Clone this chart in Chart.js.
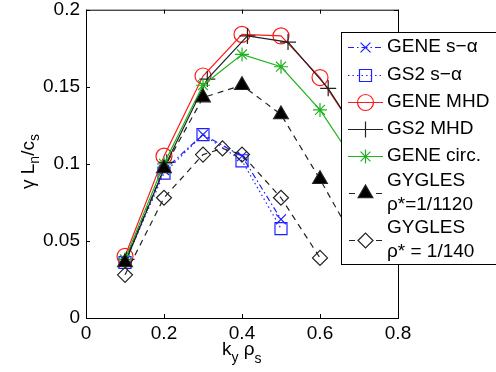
<!DOCTYPE html>
<html>
<head>
<meta charset="utf-8">
<script src="https://cdn.jsdelivr.net/npm/chart.js@4/dist/chart.umd.min.js"></script>
<style>
  html, body { margin: 0; padding: 0; background: #fff; }
  canvas { display: block; }
</style>
</head>
<body>
<canvas id="growth" width="496" height="372"></canvas>
<script>
// ---- data (k_y rho_s vs gamma L_n / c_s) ----
const kGene      = [0.1, 0.2, 0.3, 0.4, 0.5, 0.6, 0.7];
const kSalpha    = [0.1, 0.2, 0.3, 0.4, 0.5];
const kGs2       = [0.104, 0.207, 0.311, 0.414, 0.518, 0.621, 0.725];
const kGygles140 = [0.1, 0.2, 0.3, 0.35, 0.4, 0.5, 0.6];

const geneSalpha = [0.037, 0.096, 0.119, 0.105, 0.064];
const gs2Salpha  = [0.036, 0.094, 0.119, 0.102, 0.058];
const geneMhd    = [0.040, 0.105, 0.157, 0.184, 0.183, 0.156, 0.118];
const gs2Mhd     = [0.038, 0.101, 0.155, 0.183, 0.179, 0.149, 0.108];
const geneCirc   = [0.038, 0.100, 0.151, 0.171, 0.163, 0.135, 0.097];
const gygles1120 = [0.036, 0.097, 0.143, 0.151, 0.132, 0.090, 0.045];
const gygles140  = [0.028, 0.078, 0.106, 0.110, 0.106, 0.078, 0.039];

const xTicks = [0, 0.2, 0.4, 0.6, 0.8];
const yTicks = [0, 0.05, 0.1, 0.15, 0.2];

const BLUE = "#1f1fff", RED = "#ff1a1a", BLACK = "#222", GREEN = "#1fb31f";
const FONT = "'Liberation Sans', Arial, sans-serif";

const pts = (xs, ys) => xs.map((x, i) => ({ x, y: ys[i] }));

function series(label, xs, ys, color, dash, style, radius, fill) {
  return {
    label,
    data: pts(xs, ys),
    borderColor: color,
    borderWidth: 1.2,
    borderDash: dash,
    pointStyle: style,
    pointRadius: radius,
    pointBorderColor: color,
    pointBackgroundColor: fill || "rgba(0,0,0,0)",
    pointBorderWidth: 1.2,
    tension: 0
  };
}

const datasets = [
  series(["GENE s\u2212\u03b1"], kSalpha, geneSalpha, BLUE, [6, 3, 1.5, 3], "crossRot", 7),
  series(["GS2 s\u2212\u03b1"], kSalpha, gs2Salpha, BLUE, [1.5, 3], "rect", 8.5),
  series(["GENE MHD"], kGene, geneMhd, RED, [], "circle", 8),
  series(["GS2 MHD"], kGs2, gs2Mhd, BLACK, [], "cross", 8),
  series(["GENE circ."], kGene, geneCirc, GREEN, [], "star", 7),
  series(["GYGLES", "\u03c1*=1/1120"], kGene, gygles1120, BLACK, [6, 5], "triangle", 8.5, "#000"),
  series(["GYGLES", "\u03c1* = 1/140"], kGygles140, gygles140, BLACK, [6, 5], "rectRot", 7.5)
];
// later series drawn on top (matlab order)
datasets.forEach((d, i) => { d.order = datasets.length - i; });

// ---- box, inward ticks, axis titles and the boxed legend ----
const frame = {
  id: "frame",
  afterDatasetsDraw(chart) {
    const { ctx, chartArea: a, scales: { x, y } } = chart;
    ctx.save();
    ctx.strokeStyle = "#000";
    ctx.lineWidth = 1;
    ctx.setLineDash([]);
    ctx.strokeRect(a.left + 0.5, a.top + 0.5, a.right - a.left, a.bottom - a.top);
    ctx.beginPath();
    xTicks.forEach(v => {
      const px = Math.round(x.getPixelForValue(v)) + 0.5;
      ctx.moveTo(px, a.bottom); ctx.lineTo(px, a.bottom - 4);
      ctx.moveTo(px, a.top); ctx.lineTo(px, a.top + 4);
    });
    yTicks.forEach(v => {
      const py = Math.round(y.getPixelForValue(v)) + 0.5;
      ctx.moveTo(a.left, py); ctx.lineTo(a.left + 4, py);
      ctx.moveTo(a.right, py); ctx.lineTo(a.right - 4, py);
    });
    ctx.stroke();
    ctx.restore();
  },
  afterDraw(chart) {
    const { ctx } = chart;
    ctx.save();
    ctx.fillStyle = "#000";
    ctx.textBaseline = "alphabetic";

    // x title: k_y rho_s
    let cx = 222;
    const put = (t, size, base) => {
      ctx.font = size + "px " + FONT;
      ctx.fillText(t, cx, base);
      cx += ctx.measureText(t).width;
    };
    put("k", 19, 355); put("y", 14, 362); put(" \u03c1", 19, 355); put("s", 14, 363);

    // y title: gamma L_n / c_s (rotated)
    ctx.translate(34, 189);
    ctx.rotate(-Math.PI / 2);
    cx = 0;
    const putR = (t, size, base) => {
      ctx.font = size + "px " + FONT;
      ctx.fillText(t, cx, base);
      cx += ctx.measureText(t).width;
    };
    putR("\u03b3 L", 19, 0); putR("n", 14, 5); putR("/c", 19, 0); putR("s", 14, 5);
    ctx.restore();

    // legend box
    ctx.save();
    ctx.fillStyle = "#fff";
    ctx.fillRect(341.5, 32.5, 170, 232);
    ctx.strokeStyle = "#000";
    ctx.lineWidth = 1;
    ctx.strokeRect(341.5, 32.5, 170, 232);

    const rows = [47, 75, 102, 129, 156, 193, 240];
    ctx.font = "19px " + FONT;
    chart.data.datasets.forEach((d, i) => {
      const ry = rows[i] + 0.5;
      ctx.strokeStyle = d.borderColor;
      ctx.lineWidth = d.borderWidth;
      ctx.beginPath();
      if (d.label.length > 1) {
        ctx.setLineDash([]);
        ctx.moveTo(349, ry); ctx.lineTo(355, ry);
        ctx.moveTo(376, ry); ctx.lineTo(382, ry);
      } else {
        ctx.setLineDash(d.borderDash);
        ctx.moveTo(348, ry); ctx.lineTo(383, ry);
      }
      ctx.stroke();
      ctx.setLineDash([]);
      ctx.fillStyle = d.pointBackgroundColor;
      ctx.strokeStyle = d.pointBorderColor;
      ctx.lineWidth = d.pointBorderWidth;
      Chart.helpers.drawPoint(ctx, {
        pointStyle: d.pointStyle, radius: d.pointRadius, rotation: 0, borderWidth: d.pointBorderWidth
      }, 365.5, ry);

      ctx.fillStyle = "#000";
      ctx.textBaseline = "middle";
      if (d.label.length > 1) {
        ctx.fillText(d.label[0], 387, rows[i] - 12);
        ctx.fillText(d.label[1], 387, rows[i] + 12);
      } else {
        ctx.fillText(d.label[0], 387, rows[i]);
      }
    });
    ctx.restore();
  }
};

const noPad = s => { s.paddingTop = 0; s.paddingBottom = 0; s.paddingLeft = 0; s.paddingRight = 0; };
const tickText = v => String(+Number(v).toFixed(2));

new Chart(document.getElementById("growth"), {
  type: "line",
  data: { datasets },
  options: {
    responsive: false,
    animation: false,
    devicePixelRatio: 1,
    layout: { padding: { left: 0, top: 8, right: 98, bottom: 0 } },
    plugins: { legend: { display: false }, tooltip: { enabled: false } },
    scales: {
      x: {
        type: "linear", min: 0, max: 0.8,
        afterBuildTicks: s => { s.ticks = xTicks.map(v => ({ value: v })); },
        afterFit: s => { s.height = 54; noPad(s); },
        grid: { display: false, drawTicks: false },
        border: { display: false },
        ticks: { color: "#000", padding: 4, font: { family: FONT, size: 19 }, maxRotation: 0, callback: tickText }
      },
      y: {
        type: "linear", min: 0, max: 0.2,
        afterBuildTicks: s => { s.ticks = yTicks.map(v => ({ value: v })); },
        afterFit: s => { s.width = 86; noPad(s); },
        grid: { display: false, drawTicks: false },
        border: { display: false },
        ticks: { color: "#000", padding: 6, font: { family: FONT, size: 19 }, callback: tickText }
      }
    }
  },
  plugins: [frame]
});
</script>
</body>
</html>
